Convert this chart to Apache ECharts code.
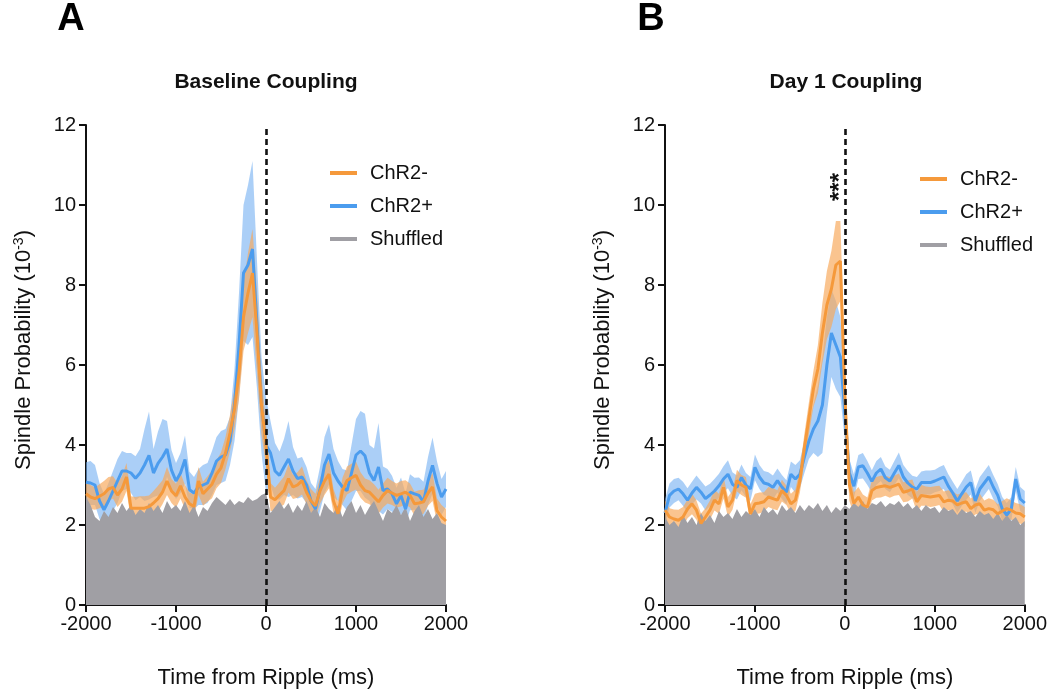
<!DOCTYPE html>
<html>
<head>
<meta charset="utf-8">
<script src="https://cdn.jsdelivr.net/npm/echarts@6/dist/echarts.min.js"></script>
<style>html,body{margin:0;padding:0;background:#fff;}#c{width:1050px;height:694px;}</style>
</head>
<body>
<div id="c"></div>
<script>
// Time bins (ms)
const times = [-2000,-1950,-1900,-1850,-1800,-1750,-1700,-1650,-1600,-1550,-1500,-1450,-1400,-1350,-1300,-1250,-1200,-1150,-1100,-1050,-1000,-950,-900,-850,-800,-750,-700,-650,-600,-550,-500,-450,-400,-350,-300,-250,-200,-150,-100,-50,0,50,100,150,200,250,300,350,400,450,500,550,600,650,700,750,800,850,900,950,1000,1050,1100,1150,1200,1250,1300,1350,1400,1450,1500,1550,1600,1650,1700,1750,1800,1850,1900,1950,2000];
const xTicks = [-2000,-1000,0,1000,2000];
const yTicks = [0,2,4,6,8,10,12];

// Panel A: Baseline Coupling
const baseNeg = [2.78,2.7,2.66,2.72,2.78,2.9,2.94,2.75,2.9,3.2,2.42,2.42,2.42,2.42,2.46,2.55,2.66,2.82,3.1,2.85,2.73,2.98,2.7,2.53,2.46,3.1,2.78,2.9,3.02,3.27,3.43,3.8,4.3,4.9,5.8,7.2,7.8,8.3,6.8,5.0,4.0,2.7,2.63,2.75,2.86,3.16,2.95,3.0,3.11,2.82,2.6,2.48,2.85,3.1,3.27,2.6,2.28,2.86,3.11,3.18,3.24,3.0,2.86,2.82,2.7,2.58,2.74,2.86,2.8,2.74,2.78,2.82,2.74,2.53,2.55,2.58,2.8,2.95,2.36,2.2,2.1];
const baseNegErr = [0.3,0.3,0.28,0.3,0.32,0.3,0.28,0.3,0.32,0.35,0.3,0.28,0.3,0.3,0.28,0.3,0.32,0.3,0.35,0.3,0.3,0.32,0.3,0.28,0.3,0.35,0.3,0.32,0.35,0.35,0.38,0.4,0.45,0.5,0.65,0.85,1.0,1.1,1.0,0.75,0.5,0.35,0.3,0.32,0.35,0.35,0.3,0.32,0.35,0.3,0.3,0.3,0.32,0.35,0.35,0.3,0.3,0.32,0.35,0.35,0.35,0.32,0.3,0.3,0.32,0.3,0.3,0.32,0.3,0.3,0.32,0.3,0.3,0.3,0.32,0.3,0.32,0.35,0.3,0.3,0.3];
const basePos = [3.07,3.05,3.0,2.6,2.38,2.6,2.85,3.1,3.35,3.35,3.3,3.17,3.3,3.5,3.74,3.3,3.54,3.7,3.9,3.37,3.1,3.3,3.64,2.88,2.8,2.95,3.0,3.05,3.3,3.6,3.7,3.75,4.1,5.0,6.5,8.3,8.5,8.9,7.0,5.0,4.0,3.8,3.35,3.24,3.45,3.65,3.35,3.16,3.2,3.0,2.6,2.4,2.9,3.5,3.77,3.3,3.1,2.95,2.86,3.3,3.75,3.85,3.73,3.3,3.11,3.45,2.86,2.9,2.78,2.53,2.74,2.4,2.82,2.78,2.74,2.58,3.1,3.49,3.04,2.7,2.9];
const basePosErr = [0.5,0.55,0.5,0.45,0.4,0.45,0.5,0.55,0.5,0.45,0.5,0.55,0.6,0.9,1.1,0.6,0.8,0.95,0.7,0.5,0.45,0.5,0.6,0.45,0.4,0.45,0.5,0.5,0.55,0.6,0.65,0.65,0.6,0.9,1.3,1.7,2.0,2.2,1.6,1.2,1.2,0.8,0.7,0.6,0.7,0.95,0.6,0.5,0.5,0.45,0.45,0.5,0.55,0.7,0.75,0.6,0.5,0.45,0.5,0.7,0.9,1.0,1.05,0.7,0.8,1.1,0.6,0.5,0.45,0.4,0.45,0.4,0.45,0.4,0.45,0.5,0.6,0.7,0.55,0.45,0.45];
const baseShuf = [2.7,2.5,2.2,2.1,2.35,2.2,2.45,2.3,2.55,2.35,2.5,2.25,2.4,2.3,2.55,2.35,2.5,2.3,2.6,2.4,2.5,2.35,2.6,2.3,2.5,2.2,2.45,2.35,2.55,2.7,2.6,2.5,2.65,2.5,2.6,2.55,2.7,2.6,2.65,2.75,2.8,2.3,2.45,2.6,2.4,2.55,2.3,2.5,2.35,2.6,2.3,2.45,2.2,2.55,2.4,2.3,2.5,2.2,2.45,2.6,2.3,2.5,2.25,2.45,2.6,2.35,2.1,2.4,2.3,2.5,2.25,2.45,2.1,2.35,2.5,2.2,2.4,2.15,2.3,2.05,2.0];

// Panel B: Day 1 Coupling
const day1Neg = [2.37,2.2,2.15,2.12,2.2,2.4,2.53,2.37,2.04,2.2,2.37,2.62,2.53,2.94,2.45,2.62,3.11,3.0,2.94,2.28,2.53,2.55,2.58,2.7,2.66,2.62,2.86,2.74,2.53,2.62,3.11,3.93,4.67,5.4,5.9,6.8,7.5,7.9,8.5,8.6,5.2,3.0,2.54,2.7,2.5,2.45,2.86,2.94,2.96,2.98,2.94,2.98,3.02,2.82,2.85,2.9,2.58,2.74,2.72,2.7,2.72,2.74,2.58,2.62,2.6,2.5,2.55,2.58,2.41,2.5,2.53,2.37,2.41,2.38,2.28,2.35,2.41,2.37,2.3,2.28,2.2];
const day1NegErr = [0.25,0.22,0.24,0.26,0.25,0.23,0.26,0.24,0.25,0.22,0.24,0.26,0.25,0.28,0.25,0.24,0.27,0.25,0.26,0.24,0.25,0.26,0.24,0.25,0.26,0.25,0.27,0.24,0.25,0.27,0.3,0.35,0.4,0.45,0.6,0.75,0.85,0.95,1.1,1.0,0.8,0.4,0.28,0.25,0.26,0.24,0.25,0.26,0.27,0.25,0.26,0.25,0.27,0.25,0.26,0.24,0.25,0.26,0.24,0.25,0.25,0.24,0.26,0.25,0.24,0.26,0.25,0.24,0.25,0.24,0.25,0.24,0.26,0.25,0.24,0.25,0.26,0.24,0.25,0.24,0.25];
const day1Pos = [2.3,2.74,2.85,2.9,2.78,2.62,2.8,2.94,2.82,2.66,2.75,2.85,2.98,3.15,3.27,3.02,2.94,3.19,3.0,2.9,3.44,3.2,3.05,3.02,2.94,3.11,2.95,2.82,3.27,3.15,3.27,3.7,4.1,4.4,4.6,5.0,6.0,6.8,6.5,6.2,4.8,3.3,2.97,3.45,3.48,3.3,3.09,3.3,3.4,3.18,3.1,3.3,3.49,3.2,3.05,2.95,2.9,3.06,3.06,3.06,3.1,3.15,3.2,2.97,2.8,2.6,2.78,2.95,3.06,2.6,2.9,3.05,3.2,2.95,2.74,2.4,2.25,2.4,3.15,2.65,2.55];
const day1PosErr = [0.35,0.3,0.3,0.28,0.3,0.3,0.28,0.3,0.28,0.3,0.28,0.3,0.3,0.32,0.35,0.3,0.3,0.32,0.3,0.3,0.32,0.3,0.3,0.3,0.3,0.3,0.3,0.3,0.32,0.35,0.35,0.4,0.45,0.6,0.9,1.2,1.2,1.1,1.1,1.0,0.7,0.35,0.3,0.3,0.32,0.3,0.28,0.3,0.3,0.28,0.28,0.3,0.32,0.3,0.3,0.28,0.3,0.28,0.3,0.3,0.28,0.3,0.3,0.3,0.28,0.3,0.3,0.32,0.3,0.3,0.3,0.3,0.3,0.3,0.28,0.3,0.3,0.3,0.3,0.3,0.3];
const day1Shuf = [2.2,2.0,2.1,1.95,2.25,2.05,2.2,2.0,2.3,2.1,2.25,2.05,2.35,2.2,2.3,2.15,2.4,2.2,2.35,2.25,2.4,2.2,2.45,2.3,2.4,2.25,2.5,2.35,2.45,2.3,2.5,2.35,2.5,2.4,2.55,2.35,2.5,2.3,2.45,2.35,2.5,2.4,2.55,2.45,2.6,2.4,2.55,2.5,2.6,2.45,2.55,2.5,2.6,2.45,2.55,2.4,2.5,2.35,2.5,2.4,2.45,2.3,2.45,2.35,2.4,2.25,2.4,2.3,2.35,2.2,2.35,2.25,2.3,2.15,2.3,2.1,2.25,2.1,2.2,2.0,2.1];

const legendNames = ['ChR2-','ChR2+','Shuffled'];
const titles = ['Baseline Coupling','Day 1 Coupling'];
const panelLetters = ['A','B'];

const FONT = '"Liberation Sans", Arial, Helvetica, sans-serif';
const C_OR = '#f5993b', C_ORB = 'rgba(247,168,90,0.68)';
const C_BL = '#4b9cee', C_BLB = 'rgba(120,178,242,0.62)';
const C_GR = '#a09fa4';

const pts = arr => times.map((t,i)=>[t,arr[i]]);
const bandRows = (m,e) => times.map((t,i)=>[t, +(m[i]-e[i]).toFixed(3), +(m[i]+e[i]).toFixed(3)]);

// band polygon drawn through the axis scale (api.coord)
function bandSeries(p, rows, color) {
  return {
    type:'custom', xAxisIndex:p, yAxisIndex:p, silent:true, animation:false,
    data:rows, encode:{x:0, y:[1,2]},
    renderItem:function(params, api){
      if (params.dataIndex !== 0) return null;
      const up = [], lo = [];
      for (let i=0;i<rows.length;i++){
        up.push(api.coord([rows[i][0], rows[i][2]]));
        lo.push(api.coord([rows[i][0], rows[i][1]]));
      }
      return {type:'polygon', shape:{points:up.concat(lo.reverse())}, style:{fill:color}};
    }
  };
}

function panelSeries(p, neg, negErr, pos, posErr, shuf, extra) {
  const base = {type:'line', xAxisIndex:p, yAxisIndex:p, symbol:'none', silent:true, animation:false};
  const s = [];
  s.push(Object.assign({}, base, {name:'Shuffled', data:pts(shuf), lineStyle:{width:0,color:C_GR}, itemStyle:{color:C_GR}, areaStyle:{color:C_GR, opacity:1}}));
  s.push(bandSeries(p, bandRows(pos,posErr), C_BLB));
  s.push(bandSeries(p, bandRows(neg,negErr), C_ORB));
  s.push(Object.assign({}, base, {name:'ChR2+', data:pts(pos), lineStyle:{width:3,color:C_BL}, itemStyle:{color:C_BL}}));
  const negLine = Object.assign({}, base, {name:'ChR2-', data:pts(neg), lineStyle:{width:3,color:C_OR}, itemStyle:{color:C_OR},
    markLine:{silent:true, symbol:['none','none'], label:{show:false}, lineStyle:{type:[6,4], color:'#111', width:2.6}, data:[{xAxis:0}]}});
  if (extra) negLine.markPoint = extra;
  s.push(negLine);
  return s;
}

const grids = [
  {left:86, top:125, width:360, height:484},
  {left:665, top:125, width:360, height:484}
];
const xAxes = grids.map((g,i)=>({
  type:'value', gridIndex:i, min:-2000, max:2000, interval:1000,
  name:'Time from Ripple (ms)', nameLocation:'middle', nameGap:62,
  nameTextStyle:{fontFamily:FONT, fontSize:22, color:'#111'},
  axisLine:{onZero:false, lineStyle:{color:'#111', width:2}},
  axisTick:{show:true, length:7, lineStyle:{color:'#111', width:2}},
  axisLabel:{fontFamily:FONT, fontSize:20, color:'#111', margin:9, formatter:v=>xTicks.includes(v)?String(v):''},
  splitLine:{show:false}
}));
const yAxes = grids.map((g,i)=>({
  type:'value', gridIndex:i, min:0, max:12, interval:2,
  name:'{a|Spindle Probability (10}{b|-3}{a|)}', nameLocation:'middle', nameGap:50, nameRotate:90,
  nameTextStyle:{padding:[0,0,0,30], rich:{a:{fontFamily:FONT, fontSize:22, color:'#111'}, b:{fontFamily:FONT, fontSize:14, color:'#111', verticalAlign:'top', padding:[0,0,10,0]}}},
  axisLine:{onZero:false, lineStyle:{color:'#111', width:2}},
  axisTick:{show:true, length:7, lineStyle:{color:'#111', width:2}},
  axisLabel:{fontFamily:FONT, fontSize:20, color:'#111', margin:10, formatter:v=>yTicks.includes(v)?String(v):''},
  splitLine:{show:false}
}));

const stars = {symbol:'circle', symbolSize:0, silent:true,
  label:{show:true, formatter:'***', rotate:90, fontFamily:FONT, fontSize:24, fontWeight:'bold', color:'#111', position:'inside'},
  data:[{coord:[-55,10.45]}]};

const series = [].concat(
  panelSeries(0, baseNeg, baseNegErr, basePos, basePosErr, baseShuf, null),
  panelSeries(1, day1Neg, day1NegErr, day1Pos, day1PosErr, day1Shuf, stars)
);

const legendCommon = {orient:'vertical', icon:'rect', itemWidth:27, itemHeight:4, itemGap:13,
  data:legendNames, selectedMode:false, textStyle:{fontFamily:FONT, fontSize:20, color:'#111', padding:[0,0,0,8]}};

const option = {
  backgroundColor:'#fff',
  animation:false,
  grid:grids,
  xAxis:xAxes,
  yAxis:yAxes,
  legend:[
    Object.assign({left:325, top:158}, legendCommon),
    Object.assign({left:915, top:164}, legendCommon)
  ],
  graphic:[
    {type:'text', x:71, y:20, style:{text:panelLetters[0], font:'bold 38px '+FONT, fill:'#000', textAlign:'center', textVerticalAlign:'middle'}},
    {type:'text', x:651, y:20, style:{text:panelLetters[1], font:'bold 38px '+FONT, fill:'#000', textAlign:'center', textVerticalAlign:'middle'}},
    {type:'text', x:266, y:82, style:{text:titles[0], font:'bold 21px '+FONT, fill:'#111', textAlign:'center', textVerticalAlign:'middle'}},
    {type:'text', x:846, y:82, style:{text:titles[1], font:'bold 21px '+FONT, fill:'#111', textAlign:'center', textVerticalAlign:'middle'}}
  ],
  series:series
};

const chart = echarts.init(document.getElementById('c'), null, {renderer:'canvas'});
chart.setOption(option);
</script>
</body>
</html>
